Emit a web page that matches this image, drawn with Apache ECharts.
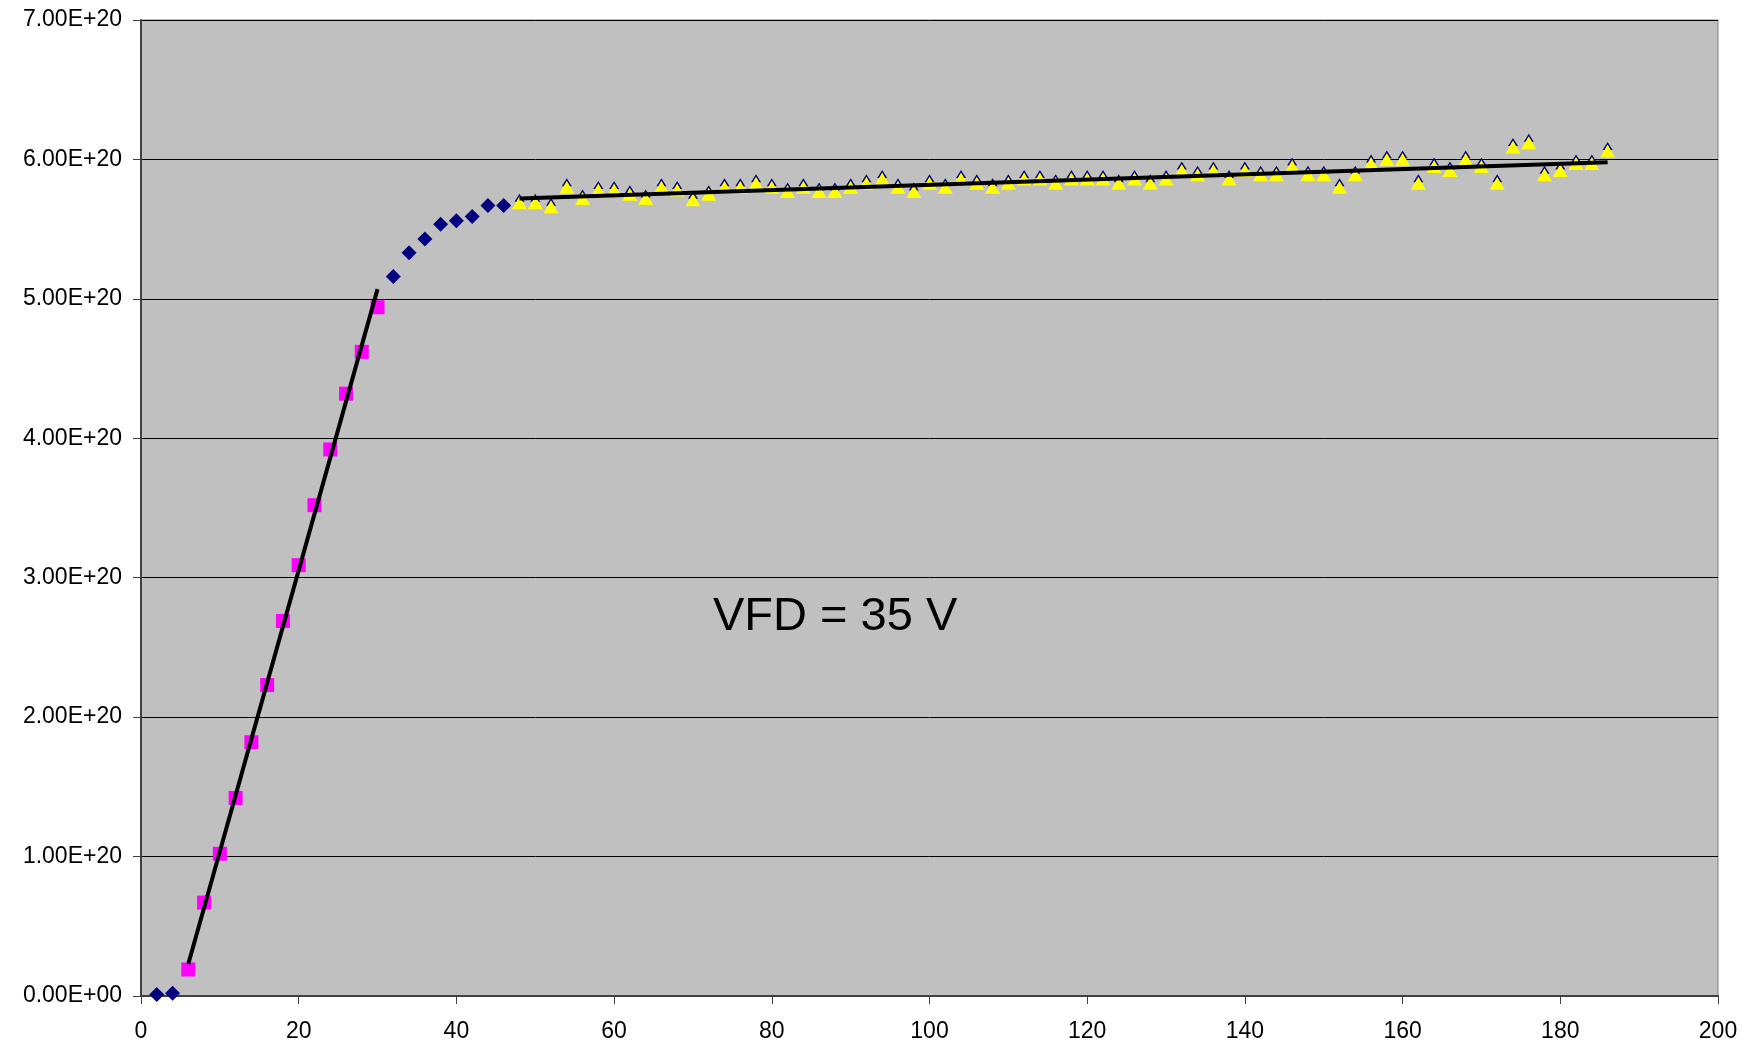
<!DOCTYPE html>
<html lang="en">
<head>
  <meta charset="UTF-8">
  <title>VFD</title>
  <script src="https://cdn.jsdelivr.net/npm/echarts@6/dist/echarts.min.js"></script>
  <style>
    html, body { margin: 0; padding: 0; background: #fff; }
  </style>
</head>
<body>
<div id="main" style="width: 1749px; height: 1045px;"></div>
<script>
// values in units of 1e20
var xBlue = [2, 4, 32, 34, 36, 38, 40, 42, 44, 46]
var yBlue = [0.01, 0.02, 5.16, 5.33, 5.43, 5.535, 5.56, 5.59, 5.67, 5.67]

var xPink = [6, 8, 10, 12, 14, 16, 18, 20, 22, 24, 26, 28, 30]
var yPink = [0.19, 0.67, 1.02, 1.42, 1.82, 2.23, 2.69, 3.09, 3.52, 3.92, 4.32, 4.62, 4.94]

var xYellow = [48, 50, 52, 54, 56, 58, 60, 62, 64, 66, 68, 70, 72, 74, 76, 78, 80, 82, 84, 86,
  88, 90, 92, 94, 96, 98, 100, 102, 104, 106, 108, 110, 112, 114, 116, 118, 120, 122, 124, 126,
  128, 130, 132, 134, 136, 138, 140, 142, 144, 146, 148, 150, 152, 154, 156, 158, 160, 162, 164, 166,
  168, 170, 172, 174, 176, 178, 180, 182, 184, 186]
var yYellow = [5.69, 5.69, 5.66, 5.80, 5.72, 5.78, 5.78, 5.75, 5.72, 5.80, 5.78, 5.71, 5.75, 5.80, 5.80, 5.83, 5.80, 5.77, 5.80, 5.77,
  5.77, 5.80, 5.83, 5.86, 5.80, 5.77, 5.83, 5.80, 5.86, 5.83, 5.80, 5.83, 5.86, 5.86, 5.83, 5.86, 5.86, 5.86, 5.83, 5.86,
  5.83, 5.86, 5.92, 5.89, 5.92, 5.86, 5.92, 5.89, 5.89, 5.95, 5.89, 5.89, 5.80, 5.89, 5.97, 6.00, 6.00, 5.83, 5.95, 5.92,
  6.00, 5.95, 5.83, 6.09, 6.12, 5.89, 5.92, 5.97, 5.97, 6.06]

// linear fits drawn in the original
var fit1X = [6, 30]
var fit1Y = [0.23, 5.07]
var fit2X = [48, 186]
var fit2Y = [5.72, 5.98]

var SCALE = 1e20
var font = 'Liberation Sans, Arial, sans-serif'

function pairs(xs, ys) {
  return xs.map(function (x, i) { return [x, ys[i] * SCALE] })
}

function sci(v) {
  if (v === 0) return '0.00E+00'
  var e = Math.floor(Math.log10(Math.abs(v)) + 1e-9)
  var m = v / Math.pow(10, e)
  return m.toFixed(2) + 'E+' + (e < 10 ? '0' + e : e)
}

var chart = echarts.init(document.getElementById('main'))

var axisColor = '#404040'

chart.setOption({
  animation: false,
  backgroundColor: '#ffffff',
  grid: {
    left: 141, right: 31, top: 20, bottom: 49,
    show: true,
    backgroundColor: '#C0C0C0',
    borderColor: '#808080',
    borderWidth: 1
  },
  xAxis: {
    type: 'value',
    min: 0, max: 200, interval: 20,
    axisLine: { show: true, onZero: false, lineStyle: { color: axisColor, width: 2 } },
    axisTick: { show: true, length: 8, lineStyle: { color: axisColor, width: 1 } },
    axisLabel: { color: '#000', fontFamily: font, fontSize: 23, margin: 24 },
    splitLine: { show: false }
  },
  yAxis: {
    type: 'value',
    min: 0, max: 7 * SCALE, interval: SCALE,
    axisLine: { show: true, lineStyle: { color: axisColor, width: 2 } },
    axisTick: { show: true, length: 8, lineStyle: { color: axisColor, width: 1 } },
    axisLabel: { color: '#000', fontFamily: font, fontSize: 23, margin: 19, formatter: sci },
    splitLine: { show: true, lineStyle: { color: '#000', width: 1 } }
  },
  series: [
    {
      type: 'scatter',
      symbol: 'diamond',
      symbolSize: 15,
      itemStyle: { color: '#000080', opacity: 1 },
      data: pairs(xBlue, yBlue),
      z: 2
    },
    {
      // small navy cap peeking out above each triangle
      type: 'scatter',
      symbol: 'triangle',
      symbolSize: [10, 8],
      symbolOffset: [0, -5],
      itemStyle: { color: '#000080', opacity: 1 },
      data: pairs(xYellow, yYellow),
      z: 2
    },
    {
      type: 'scatter',
      symbol: 'rect',
      symbolSize: 14,
      itemStyle: { color: '#FF00FF', opacity: 1 },
      data: pairs(xPink, yPink),
      z: 3
    },
    {
      type: 'scatter',
      symbol: 'triangle',
      symbolSize: [15, 13],
      itemStyle: { color: '#FFFF00', opacity: 1 },
      data: pairs(xYellow, yYellow),
      z: 4
    },
    {
      type: 'line',
      showSymbol: false,
      lineStyle: { color: '#000', width: 4 },
      data: pairs(fit1X, fit1Y),
      z: 5
    },
    {
      type: 'line',
      showSymbol: false,
      lineStyle: { color: '#000', width: 4 },
      data: pairs(fit2X, fit2Y),
      z: 5
    }
  ],
  graphic: [
    {
      type: 'text',
      left: 713,
      top: 594,
      z: 10,
      style: {
        text: 'VFD = 35 V',
        fill: '#000',
        font: '47px Liberation Sans, Arial, sans-serif'
      }
    }
  ]
})
</script>
</body>
</html>
